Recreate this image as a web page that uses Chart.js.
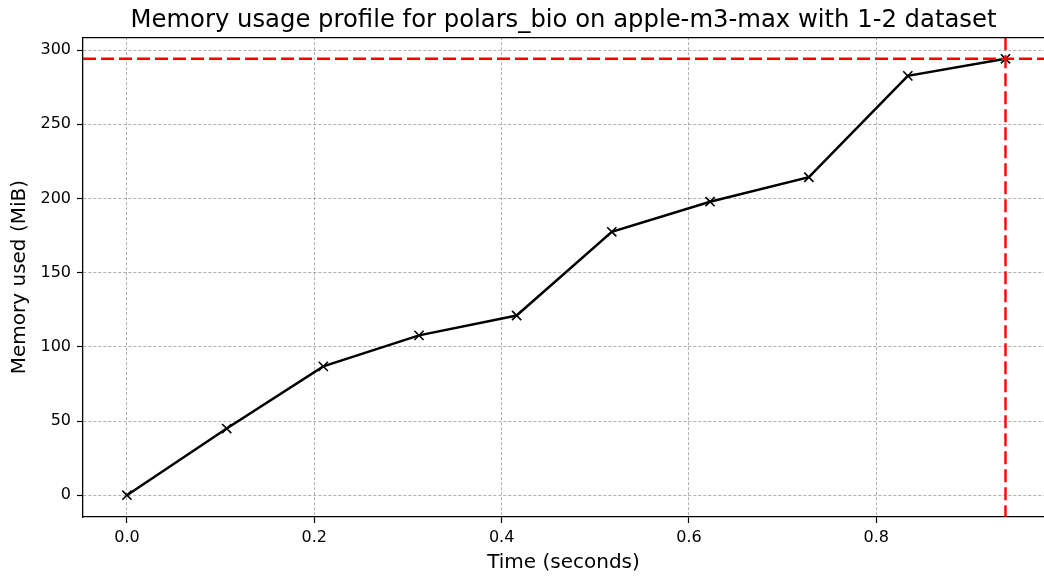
<!DOCTYPE html>
<html>
<head>
<meta charset="utf-8">
<title>Memory usage profile</title>
<script src="https://cdn.jsdelivr.net/npm/chart.js@4"></script>
<style>
  html, body { margin: 0; padding: 0; background: #fff; }
  #wrap { width: 1044px; height: 577px; }
</style>
</head>
<body>
<div id="wrap"><canvas id="grafico" width="1044" height="577"></canvas></div>
<script>
// amostras do perfil de memória
const tempo = [0, 0.1065, 0.2096, 0.3118, 0.416, 0.5176, 0.6225, 0.728, 0.8336, 0.9379];
const memoria = [0, 44.9, 86.8, 107.7, 121.1, 177.5, 197.8, 214.3, 282.6, 294.1];
const ticksX = [0.0, 0.2, 0.4, 0.6, 0.8];
const ticksY = [0, 50, 100, 150, 200, 250, 300];
const titulo = 'Memory usage profile for polars_bio on apple-m3-max with 1-2 dataset';

Chart.defaults.font.family = "'DejaVu Sans', sans-serif";
Chart.defaults.color = '#000';

const pico = Math.max(...memoria);
const tPico = tempo[memoria.indexOf(pico)];

// linhas vermelhas tracejadas no pico + borda superior
const marcaPico = {
  id: 'marcaPico',
  afterDatasetsDraw(chart) {
    const { ctx, chartArea: a, scales: { x, y } } = chart;
    const px = x.getPixelForValue(tPico);
    const py = y.getPixelForValue(pico);
    ctx.save();
    ctx.strokeStyle = '#ff0000';
    ctx.lineWidth = 2.4;
    ctx.setLineDash([13, 5]);
    ctx.beginPath();
    ctx.moveTo(a.left, py); ctx.lineTo(a.right, py);
    ctx.moveTo(px, a.top); ctx.lineTo(px, a.bottom);
    ctx.stroke();
    ctx.setLineDash([]);
    ctx.strokeStyle = '#000';
    ctx.lineWidth = 1.3;
    ctx.beginPath();
    ctx.moveTo(a.left, a.top + 0.5); ctx.lineTo(a.right, a.top + 0.5);
    ctx.stroke();
    ctx.restore();
  }
};

const eixoComum = {
  border: { color: '#000', width: 1.3, dash: [3, 2] },
  grid: {
    color: 'rgba(130,130,130,0.8)',
    lineWidth: 0.8,
    tickLength: 6,
    tickColor: '#000',
    tickWidth: 1.2,
    tickBorderDash: []
  }
};

new Chart(document.getElementById('grafico'), {
  type: 'line',
  data: {
    datasets: [{
      data: tempo.map((t, i) => ({ x: t, y: memoria[i] })),
      borderColor: '#000',
      borderWidth: 2.5,
      pointStyle: 'crossRot',
      pointRadius: 6.5,
      pointBorderWidth: 1.6,
      pointBorderColor: '#000',
      fill: false,
      tension: 0
    }]
  },
  options: {
    responsive: false,
    animation: false,
    devicePixelRatio: 1,
    layout: { padding: 0, autoPadding: false },
    plugins: {
      legend: { display: false },
      tooltip: { enabled: false },
      title: {
        display: true,
        text: titulo,
        fullSize: false,
        color: '#000',
        font: { size: 24.3, weight: 'normal' },
        padding: { top: 6, bottom: 2 }
      }
    },
    scales: {
      x: {
        type: 'linear',
        min: -0.0469,
        max: 0.979,
        ...eixoComum,
        afterBuildTicks: s => { s.ticks = ticksX.map(v => ({ value: v })); },
        afterFit: s => { s.height = 60; s.paddingRight = 0; s.paddingLeft = 0; },
        ticks: { font: { size: 16 }, padding: 5, callback: v => v.toFixed(1) },
        title: { display: true, text: 'Time (seconds)', font: { size: 20 }, padding: { top: 2, bottom: 2 } }
      },
      y: {
        type: 'linear',
        min: -14.7,
        max: 308.7,
        ...eixoComum,
        afterBuildTicks: s => { s.ticks = ticksY.map(v => ({ value: v })); },
        afterFit: s => { s.width = 83; s.paddingTop = 0; s.paddingBottom = 0; },
        ticks: { font: { size: 16 }, padding: 6 },
        title: { display: true, text: 'Memory used (MiB)', font: { size: 20 }, padding: { top: 8, bottom: 2 } }
      }
    }
  },
  plugins: [marcaPico]
});
</script>
</body>
</html>
